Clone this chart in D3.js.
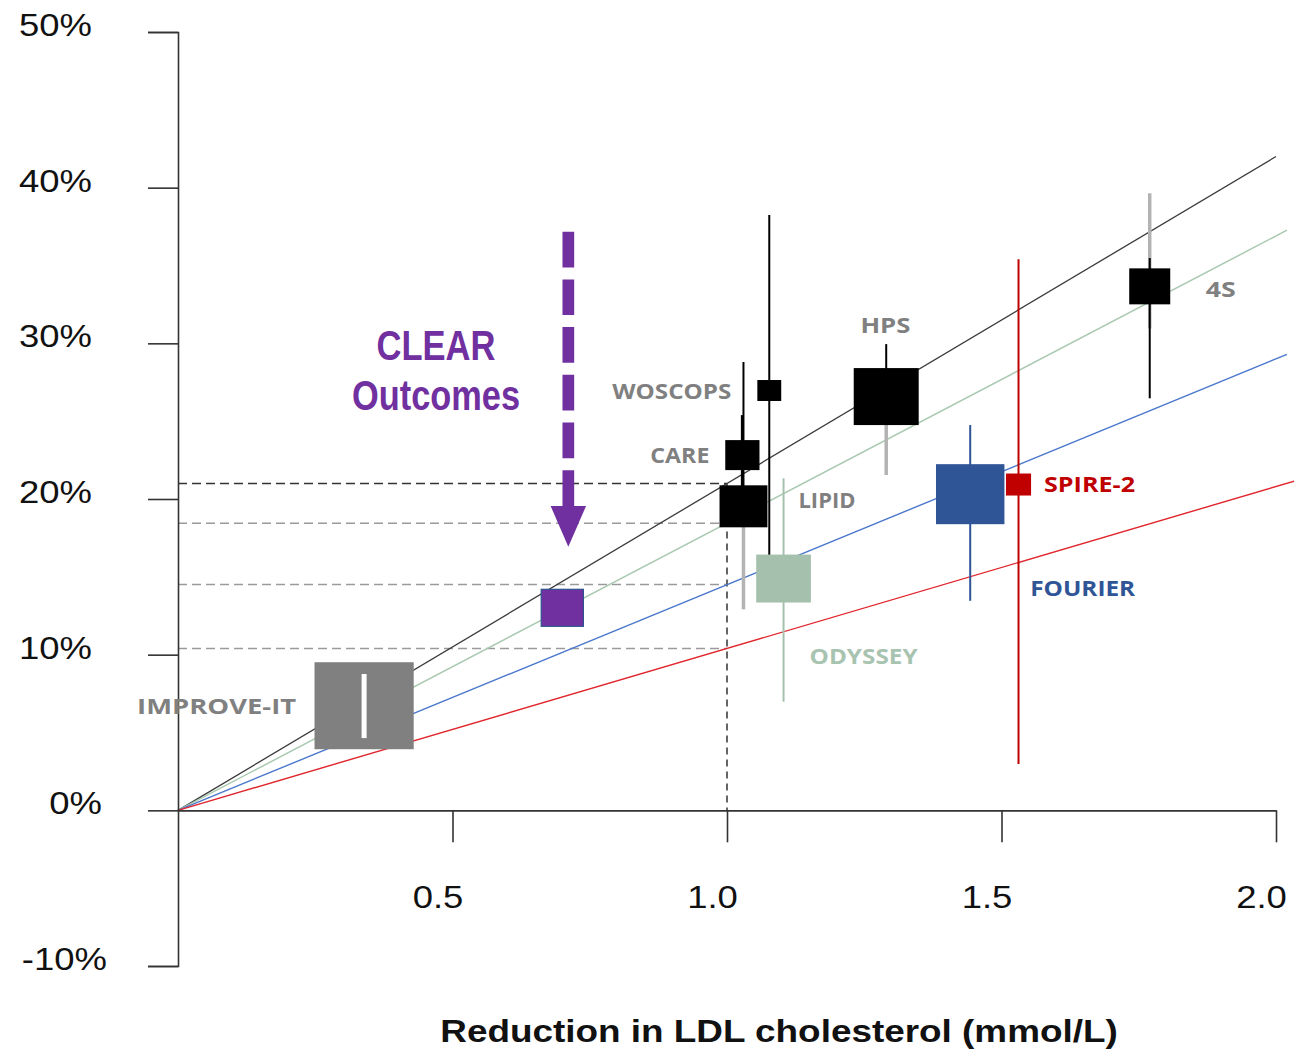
<!DOCTYPE html>
<html>
<head>
<meta charset="utf-8">
<script src="https://cdn.jsdelivr.net/npm/d3@7"></script>
<style>
  body { margin: 0; background: #ffffff; }
  svg { display: block; }
</style>
</head>
<body>
<svg id="chart" width="1294" height="1051"></svg>
<script>
// ---- Trial results: LDL-C reduction (mmol/L) vs relative risk reduction (%) ----
const studies       = ["IMPROVE-IT", "CLEAR Outcomes", "WOSCOPS", "CARE", "LIPID", "HPS", "ODYSSEY", "FOURIER", "SPIRE-2", "4S"];
const ldlReduction  = [0.339, 0.700, 1.077, 1.028, 1.030, 1.290, 1.103, 1.443, 1.531, 1.770];
const riskReduction = [6.72, 13.01, 26.97, 22.82, 19.53, 26.58, 14.89, 20.31, 20.93, 33.66];
const boxWeight     = [100, 18.1, 5.8, 11.9, 23.3, 42.9, 30.4, 47.6, 6.4, 17.1];

// ---- Confidence-interval segments (% risk reduction) ----
const ciStudy = ["IMPROVE-IT", "WOSCOPS", "CARE", "LIPID", "LIPID", "HPS", "HPS", "ODYSSEY", "FOURIER", "SPIRE-2", "4S", "4S"];
const ciLow   = [4.64, 16.40, 19.60, 19.60, 12.91, 22.31, 21.54, 6.98, 13.46, 2.97, 30.96, 26.47];
const ciHigh  = [8.76, 38.24, 25.39, 28.80, 19.50, 29.95, 26.60, 21.33, 24.75, 35.40, 39.64, 35.48];
const ciTone  = ["inner", "dark", "darkBold", "dark", "light", "dark", "light", "own", "own", "own", "light", "dark"];

// ---- Reference lines through the origin (% per mmol/L) ----
const refSlope = [21.0, 18.45, 14.5, 10.4];
const refEnd   = [2.0, 2.02, 2.02, 2.04];

// ---- Axis ticks ----
const xTicks      = [0.5, 1.0, 1.5, 2.0];
const xTickLabels = ["0.5", "1.0", "1.5", "2.0"];
const yTicks      = [-10, 0, 10, 20, 30, 40, 50];
const yTickLabels = ["-10%", "0%", "10%", "20%", "30%", "40%", "50%"];
const xTitle      = "Reduction in LDL cholesterol (mmol/L)";

// ---- Styling ----
const studyFill = {
  "IMPROVE-IT": "#808080", "CLEAR Outcomes": "#7030A0", "WOSCOPS": "#000000", "CARE": "#000000",
  "LIPID": "#000000", "HPS": "#000000", "ODYSSEY": "#A5C1AD", "FOURIER": "#2F5597",
  "SPIRE-2": "#C00000", "4S": "#000000"
};
const labelFill = {
  "IMPROVE-IT": "#808080", "WOSCOPS": "#808080", "CARE": "#808080", "LIPID": "#808080",
  "HPS": "#808080", "ODYSSEY": "#A8C4B1", "FOURIER": "#2F5597", "SPIRE-2": "#C00000", "4S": "#808080"
};
// label placement relative to the box centre, with rendered text length
const labelPlace = {
  "IMPROVE-IT": { dx: -68, dy: 0, anchor: "end", len: 159 },
  "WOSCOPS":    { dx: -38, dy: 0, anchor: "end", len: 119 },
  "CARE":       { dx: -33, dy: 0, anchor: "end", len: 59 },
  "LIPID":      { dx: 55,  dy: -6, anchor: "start", len: 57 },
  "HPS":        { dx: -0.8, dy: -71.5, anchor: "middle", len: 50 },
  "ODYSSEY":    { dx: 26,  dy: 77, anchor: "start", len: 108 },
  "FOURIER":    { dx: 60,  dy: 93.5, anchor: "start", len: 105 },
  "SPIRE-2":    { dx: 25.5, dy: -0.7, anchor: "start", len: 91 },
  "4S":         { dx: 56,  dy: 3, anchor: "start", len: 30 }
};
const refColor = ["#3a3a3a", "#A9C9B1", "#4A78CC", "#E0262C"];
const refWidth = [1.3, 1.5, 1.4, 1.4];
const SX = 1.14; // horizontal stretch of the text and boxes

const svg = d3.select("#chart");
const x = d3.scaleLinear().domain([0, 2]).range([178, 1276]);
const y = d3.scaleLinear().domain([-10, 50]).range([966, 32]);
const side = d3.scaleSqrt().domain([0, 100]).range([0, 87]);

function stretchedText(sel, px, py, str, o) {
  return sel.append("text")
    .attr("transform", `translate(${px},${py}) scale(${o.sx ?? SX},1)`)
    .attr("text-anchor", o.anchor || "start")
    .style("font-family", o.family || "'Liberation Sans', Arial, sans-serif")
    .style("font-size", o.size + "px")
    .style("font-weight", o.weight || 400)
    .style("fill", o.fill || "#000")
    .text(str);
}

// ---- Dashed guides at 1.0 mmol/L ----
const guides = svg.append("g");
refSlope.forEach((s, i) => {
  guides.append("line")
    .attr("x1", x(0)).attr("x2", x(1.0))
    .attr("y1", y(s)).attr("y2", y(s))
    .attr("stroke", i === 0 ? "#333333" : "#9a9a9a")
    .attr("stroke-width", 1.5)
    .attr("stroke-dasharray", "9,5");
});
guides.append("line")
  .attr("x1", x(1.0)).attr("x2", x(1.0))
  .attr("y1", y(refSlope[0])).attr("y2", y(0))
  .attr("stroke", "#333333").attr("stroke-width", 1.5)
  .attr("stroke-dasharray", "7,5");

// ---- Reference lines ----
const refs = svg.append("g");
refSlope.forEach((s, i) => {
  refs.append("line")
    .attr("x1", x(0)).attr("y1", y(0))
    .attr("x2", x(refEnd[i])).attr("y2", y(s * refEnd[i]))
    .attr("stroke", refColor[i]).attr("stroke-width", refWidth[i]);
});

// ---- Axes ----
const yAxis = d3.axisLeft(y).tickValues(yTicks).tickFormat("").tickSize(30).tickSizeOuter(30);
const yG = svg.append("g").attr("transform", `translate(${x(0)},0)`).call(yAxis);
const xAxis = d3.axisBottom(x).tickValues(xTicks).tickFormat("").tickSize(32).tickSizeOuter(0);
const xG = svg.append("g").attr("transform", `translate(0,${y(0)})`).call(xAxis);
[yG, xG].forEach(g => {
  g.selectAll("path, line").attr("stroke", "#333333").attr("stroke-width", 1.6);
});

const yNudge = { "0%": 10, "-10%": 15 };
yTicks.forEach((t, i) => {
  stretchedText(svg, 92 + (yNudge[yTickLabels[i]] || 0), y(t) + 4, yTickLabels[i],
    { anchor: "end", size: 32, fill: "#111" });
});
xTicks.forEach((t, i) => {
  stretchedText(svg, x(t) - 14.5, 908, xTickLabels[i], { anchor: "middle", size: 32, fill: "#111" });
});
stretchedText(svg, 779, 1041.5, xTitle, { anchor: "middle", size: 31, weight: 700, sx: 1.19, fill: "#111" });

// ---- Confidence intervals ----
const ciStyle = {
  inner:    { stroke: "#ffffff", width: 5 },
  dark:     { stroke: "#000000", width: 2 },
  darkBold: { stroke: "#000000", width: 3 },
  light:    { stroke: "#b3b3b3", width: 3.5 }
};
const cis = svg.append("g");
ciStudy.forEach((name, i) => {
  const k = studies.indexOf(name);
  const st = ciTone[i] === "own" ? { stroke: studyFill[name], width: 2 } : ciStyle[ciTone[i]];
  const mark = cis.append("line")
    .attr("x1", x(ldlReduction[k])).attr("x2", x(ldlReduction[k]))
    .attr("y1", y(ciLow[i])).attr("y2", y(ciHigh[i]))
    .attr("stroke", st.stroke).attr("stroke-width", st.width);
  if (ciTone[i] === "inner") mark.attr("data-front", "1");
});

// ---- Boxes (area proportional to weight) ----
const boxes = svg.append("g");
studies.forEach((name, k) => {
  const h = side(boxWeight[k]);
  const w = h * SX;
  boxes.append("rect")
    .attr("x", x(ldlReduction[k]) - w / 2)
    .attr("y", y(riskReduction[k]) - h / 2)
    .attr("width", w).attr("height", h)
    .attr("fill", studyFill[name])
    .attr("stroke", name === "CLEAR Outcomes" ? "#2F528F" : "none")
    .attr("stroke-width", 1.2);
});
// white interval drawn on top of the grey IMPROVE-IT box
cis.selectAll("line[data-front='1']").each(function () { boxes.node().appendChild(this); });

// ---- Study labels ----
studies.forEach((name, k) => {
  const p = labelPlace[name];
  if (!p) return;
  svg.append("text")
    .attr("x", x(ldlReduction[k]) + p.dx)
    .attr("y", y(riskReduction[k]) + p.dy + 8)
    .attr("text-anchor", p.anchor)
    .attr("textLength", p.len).attr("lengthAdjust", "spacingAndGlyphs")
    .style("font-family", "'Open Sans', 'Noto Sans', sans-serif")
    .style("font-size", "22px").style("font-weight", 700)
    .style("fill", labelFill[name])
    .text(name);
});

// ---- CLEAR Outcomes call-out ----
const purple = "#7030A0";
const arrowX = x(0.711);
svg.append("line")
  .attr("x1", arrowX).attr("x2", arrowX)
  .attr("y1", y(37.17)).attr("y2", y(19.5))
  .attr("stroke", purple).attr("stroke-width", 11.7)
  .attr("stroke-dasharray", "35.7,12");
svg.append("path")
  .attr("d", d3.line()([[arrowX - 17.7, y(19.55)], [arrowX + 17.7, y(19.55)], [arrowX, y(16.93)]]) + "Z")
  .attr("fill", purple);
[["CLEAR", 28.94, 119], ["Outcomes", 25.73, 168]].forEach(([t, v, len]) => {
  svg.append("text")
    .attr("x", 436).attr("y", y(v))
    .attr("text-anchor", "middle")
    .attr("textLength", len).attr("lengthAdjust", "spacingAndGlyphs")
    .style("font-family", "'Liberation Sans Narrow', 'Liberation Sans', Arial, sans-serif")
    .style("font-size", "42px").style("font-weight", 700)
    .style("fill", purple)
    .text(t);
});
</script>
</body>
</html>
